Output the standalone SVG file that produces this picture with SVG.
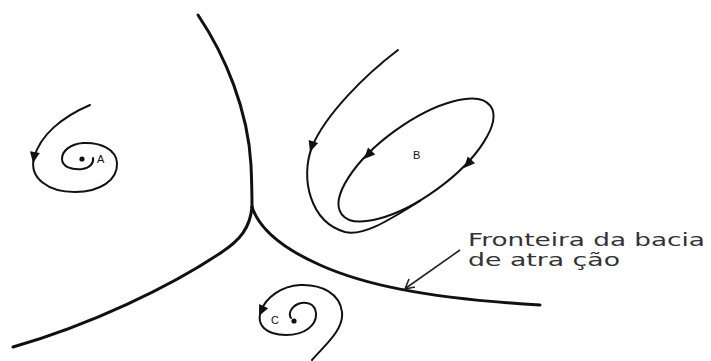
<svg xmlns="http://www.w3.org/2000/svg" width="711" height="361" viewBox="0 0 711 361">
<style>
.bd{fill:none;stroke:#111;stroke-width:3;stroke-linecap:round}
.tr{fill:none;stroke:#111;stroke-width:2;stroke-linecap:round}
.lb{font-family:"Liberation Sans",Arial,sans-serif;font-size:11px;fill:#111}
.tx{font-family:"DejaVu Sans",Verdana,sans-serif;font-size:17px;fill:#333}
</style>
<defs>
<path id="ah" d="M0,0 L-11,-5 L-11,5 Z" fill="#111"/>
</defs>
<rect width="711" height="361" fill="#fff"/>
<g id="boundary">
<path class="bd" d="M198,15 C225,55 248,110 251,165 C252,188 252,200 252,207"/>
<path class="bd" d="M252,207 C250,228 240,240 222,252 C170,287 90,325 13,347"/>
<path class="bd" d="M252,207 C258,225 275,245 320,265 C360,283 420,298 540,305"/>
</g>
<g id="attractorA">
<path class="tr" d="M90,105 C62,117 40,135 34,158 C29,178 48,192 75,192 C100,192 118,180 117,163 C116,149 100,142 83,143 C70,144 62,151 62,159 C62,167 72,170 82,169 C90,168 94,163 93,158"/>
<use href="#ah" transform="translate(33,163) rotate(100)"/>
<circle cx="82" cy="159" r="2.6" fill="#111"/>
<text class="lb" x="97" y="163">A</text>
</g>
<g id="attractorB">
<ellipse class="tr" cx="416" cy="160" rx="92" ry="36" transform="rotate(-36 416 160)"/>
<path class="tr" d="M398,50 C365,75 325,115 312,147 C300,178 310,222 345,232 C365,237 395,216 420,201"/>
<use href="#ah" transform="translate(310,152) rotate(108)"/>
<use href="#ah" transform="translate(364,159) rotate(134)"/>
<use href="#ah" transform="translate(464,168) rotate(132)"/>
<text class="lb" x="413" y="159">B</text>
</g>
<g id="attractorC">
<path class="tr" d="M312,360 C325,345 344,330 342,312 C340,294 322,284 300,285 C282,286 266,297 261,311 C256,325 266,335 286,335 C305,335 317,325 316,313 C315,303 305,301 298,304 C291,307 288,314 291,318"/>
<use href="#ah" transform="translate(259,316) rotate(115)"/>
<circle cx="294" cy="321" r="2.6" fill="#111"/>
<text class="lb" x="271" y="324">C</text>
</g>
<g id="label">
<text class="tx" x="468" y="246" textLength="237" lengthAdjust="spacingAndGlyphs">Fronteira da bacia</text>
<text class="tx" x="468" y="266" textLength="152" lengthAdjust="spacingAndGlyphs">de atra ção</text>
</g>
<g id="connectors">
<path d="M460,250 L406,288" fill="none" stroke="#222" stroke-width="1.6"/>
<path d="M409,279 L405,289 L415,287" fill="none" stroke="#222" stroke-width="1.6" stroke-linejoin="miter"/>
</g>
</svg>
